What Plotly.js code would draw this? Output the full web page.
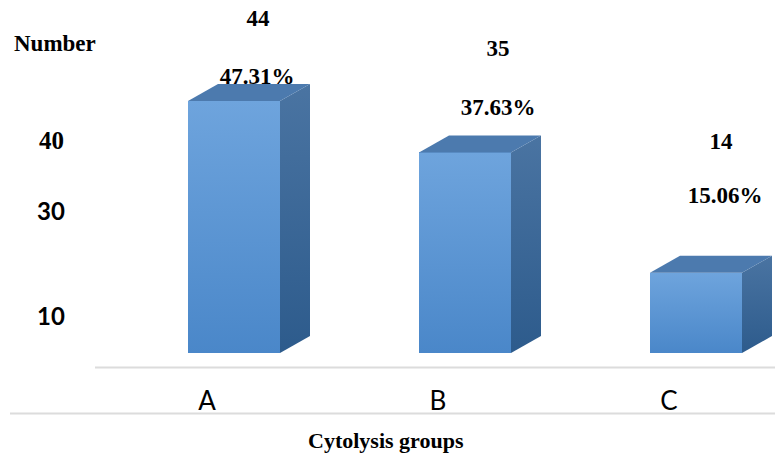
<!DOCTYPE html>
<html>
<head>
<meta charset="utf-8">
<script src="https://cdn.plot.ly/plotly-3.0.1.min.js"></script>
<style>
  html, body { margin: 0; padding: 0; background: #ffffff; }
  #chart { width: 775px; height: 458px; }
</style>
</head>
<body>
<div id="chart"></div>
<script>
// Cytolysis groups: patient counts and shares
const categories = ['A', 'B', 'C'];
const counts = [44, 35, 14];
const percents = ['47.31%', '37.63%', '15.06%'];
const yTickLabels = ['40', '30', '10'];

// ---- geometry / styling ----
const W = 775, H = 458;
const margin = { l: 0, r: 0, t: 0, b: 105 };
const plotH = H - margin.t - margin.b;      // 353 px
const plotW = W - margin.l - margin.r;      // 775 px
const pxPerUnitY = 5.73;                    // vertical scale
const yMax = plotH / pxPerUnitY;
const pxPerCat = 231;                       // category spacing
const xMin = -207 / pxPerCat;
const xMax = xMin + plotW / pxPerCat;

const frontOffset = -19 / pxPerCat;         // front face left edge relative to category
const frontWidth = 92 / pxPerCat;
const depthX = 30 / pxPerCat;               // 3-D depth of the boxes
const depthY = 17 / pxPerUnitY;

// value-label placement (pixels above the bar top / right of the category)
const countGapPx = [81, 102, 130];
const pctGapPx = [23, 43, 76];
const countShiftPx = [51, 60, 52];
const pctShiftPx = [50, 60, 56];

const serifBold = { family: 'Liberation Serif, Times New Roman, serif', size: 23, color: '#000', weight: 'bold' };

const traces = [];

// front faces as a bar trace
traces.push({
  type: 'bar',
  x: categories.map((_, i) => i),
  y: counts,
  offset: frontOffset,
  width: frontWidth,
  marker: { color: '#5b96d4', line: { width: 0 } },
  hoverinfo: 'skip',
  showlegend: false
});

// value labels (drawn before the top faces so the boxes sit over them)
traces.push({
  type: 'scatter',
  mode: 'text',
  x: categories.map((_, i) => i + countShiftPx[i] / pxPerCat).concat(
     categories.map((_, i) => i + pctShiftPx[i] / pxPerCat)),
  y: counts.map((v, i) => v + countGapPx[i] / pxPerUnitY).concat(
     counts.map((v, i) => v + pctGapPx[i] / pxPerUnitY)),
  text: counts.map(String).concat(percents),
  textposition: 'middle center',
  textfont: serifBold,
  cliponaxis: false,
  hoverinfo: 'skip',
  showlegend: false
});

counts.forEach((v, i) => {
  const x0 = i + frontOffset;
  const x1 = x0 + frontWidth;
  // shaded front face
  traces.push({
    type: 'scatter', mode: 'lines',
    x: [x0, x1, x1, x0, x0],
    y: [0, 0, v, v, 0],
    fill: 'toself',
    fillgradient: { type: 'vertical', colorscale: [[0, '#4a87c9'], [1, '#6ea4dd']] },
    line: { width: 0 },
    hoverinfo: 'skip', showlegend: false
  });
  // side face
  traces.push({
    type: 'scatter', mode: 'lines',
    x: [x1, x1 + depthX, x1 + depthX, x1, x1],
    y: [0, depthY, v + depthY, v, 0],
    fill: 'toself',
    fillgradient: { type: 'vertical', colorscale: [[0, '#2d5b8c'], [1, '#4a74a2']] },
    line: { width: 0 },
    hoverinfo: 'skip', showlegend: false
  });
  // top face
  traces.push({
    type: 'scatter', mode: 'lines',
    x: [x0, x1, x1 + depthX, x0 + depthX, x0],
    y: [v, v, v + depthY, v + depthY, v],
    fill: 'toself',
    fillcolor: '#4c7aae',
    line: { width: 0 },
    hoverinfo: 'skip', showlegend: false
  });
});

// y-axis labels as printed
const yLabelPos = [140, 210, 315];
const yLabelFonts = [
  { family: 'Liberation Serif, Times New Roman, serif', size: 25, color: '#000', weight: 'bold' },
  { family: 'Lato, sans-serif', size: 24, color: '#000', weight: 'bold' },
  { family: 'Lato, sans-serif', size: 24, color: '#000', weight: 'bold' }
];
const annotations = yTickLabels.map((t, i) => ({
  xref: 'paper', yref: 'paper',
  x: 51 / plotW, y: (plotH - yLabelPos[i]) / plotH,
  xanchor: 'center', yanchor: 'middle',
  text: t, showarrow: false, font: yLabelFonts[i]
}));
annotations.push({
  xref: 'paper', yref: 'paper', x: 55 / plotW, y: (plotH - 43) / plotH,
  xanchor: 'center', yanchor: 'middle', text: 'Number', showarrow: false,
  font: serifBold
});
annotations.push({
  xref: 'paper', yref: 'paper', x: 386 / plotW, y: (plotH - 440) / plotH,
  xanchor: 'center', yanchor: 'middle', text: 'Cytolysis groups', showarrow: false,
  font: Object.assign({}, serifBold, { size: 22 })
});

const shapes = [
  { type: 'line', xref: 'paper', yref: 'paper', x0: 95 / plotW, x1: 1,
    y0: -(367.5 - plotH) / plotH, y1: -(367.5 - plotH) / plotH,
    line: { color: '#dcdcdc', width: 2 } },
  { type: 'line', xref: 'paper', yref: 'paper', x0: 10 / plotW, x1: 1,
    y0: -(413.5 - plotH) / plotH, y1: -(413.5 - plotH) / plotH,
    line: { color: '#dcdcdc', width: 2 } }
];

const layout = {
  width: W, height: H,
  margin: margin,
  paper_bgcolor: '#ffffff', plot_bgcolor: '#ffffff',
  showlegend: false,
  bargap: 0,
  xaxis: {
    range: [xMin, xMax],
    tickvals: categories.map((_, i) => i),
    ticktext: categories,
    tickfont: { family: 'Lato, sans-serif', size: 26, color: '#000' },
    ticks: '', ticklabelstandoff: 30,
    showgrid: false, zeroline: false, showline: false, fixedrange: true
  },
  yaxis: { range: [0, yMax], visible: false, fixedrange: true },
  annotations: annotations,
  shapes: shapes
};

Plotly.newPlot('chart', traces, layout, { displayModeBar: false, staticPlot: true });
</script>
</body>
</html>
